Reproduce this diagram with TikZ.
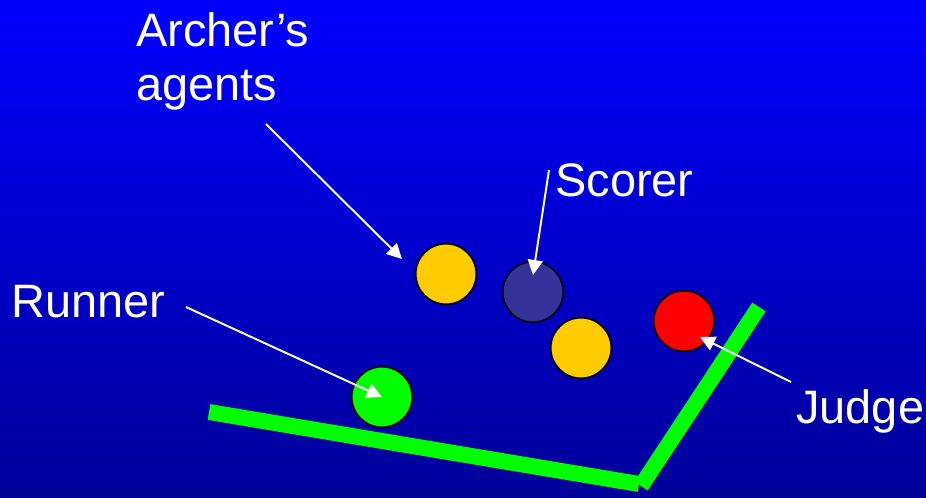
\documentclass[tikz,border=0pt]{standalone}
\usepackage{fontspec}
\setmainfont{Liberation Sans}
\usetikzlibrary{arrows.meta}
\definecolor{slidetop}{RGB}{0,0,255}
\definecolor{slidebottom}{RGB}{0,0,153}
\definecolor{agentyellow}{RGB}{255,204,0}
\definecolor{scorernavy}{RGB}{51,51,153}
\tikzset{
    ball/.style={circle,draw=black,line width=0.9pt,minimum size=1.21cm,inner sep=0pt},
    tag/.style={text=white,inner sep=0pt,anchor=base west,align=left,font=\fontsize{26.7}{30.7}\selectfont},
    pointer/.style={draw=white,line width=1.1pt,arrows={-Triangle[length=0.3cm,width=0.3cm]}},
    rail/.style={draw=green,line width=0.32cm,line cap=butt},
    }

\begin{document}
\begin{tikzpicture}[x=0.02cm,y=-0.02cm]
		\shade[top color=slidetop,bottom color=slidebottom] (0,0) rectangle (926,497);
		\useasboundingbox (0,0) rectangle (926,497);

		% the track
		\draw[rail] (209,412) -- (639,484);
		\draw[rail] (641,486) -- (759,307);

		\node[ball,fill=agentyellow] (agentA) at (446,274) {};
		\node[ball,fill=scorernavy] (scorer) at (533,292) {};
		\node[ball,fill=agentyellow] (agentB) at (581,348) {};
		\node[ball,fill=red] (judge) at (684,321) {};
		\node[ball,fill=green] (runner) at (382,397) {};

		% base of a two-line tag sits on its last line
		\node[tag] (agentslbl) at (136,100) {Archer’s\\agents};
		\node[tag] (scorerlbl) at (555,196) {Scorer};
		\node[tag] (runnerlbl) at (11,317) {Runner};
		\node[tag] (judgelbl) at (796,423) {Judge};

		\coordinate (agentsfrom) at (266,124);
		\coordinate (agentsto) at (402,259);
		\coordinate (scorerfrom) at (549,170);
		\coordinate (scorerto) at (533,275);
		\coordinate (runnerfrom) at (186,307);
		\coordinate (judgefrom) at (791,382);
		\coordinate (judgeto) at (700,337);

		\draw[pointer] (agentsfrom) -- (agentsto);
		\draw[pointer] (scorerfrom) -- (scorerto);
		\draw[pointer] (runnerfrom) -- (runner.center);
		\draw[pointer] (judgefrom) -- (judgeto);
	\end{tikzpicture}
\end{document}
